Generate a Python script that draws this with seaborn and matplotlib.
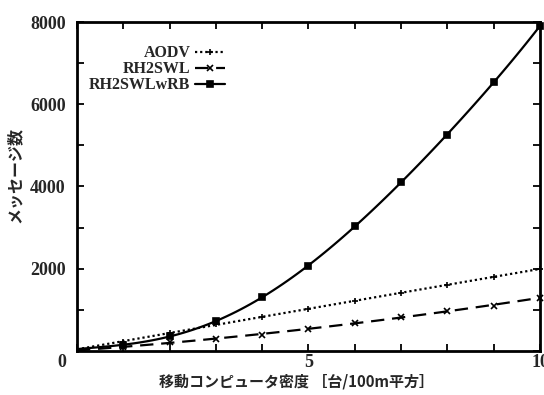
import numpy as np
import pandas as pd
import matplotlib
matplotlib.use("Agg")
import matplotlib.pyplot as plt
from matplotlib.lines import Line2D
import seaborn as sns

# Mobile-computer density (units per 100 m^2) and message counts per protocol
density = [1, 2, 3, 4, 5, 6, 7, 8, 9, 10]
aodv = [230, 440, 650, 830, 1020, 1220, 1410, 1610, 1800, 2000]
rh2swl = [100, 210, 300, 390, 540, 680, 830, 975, 1100, 1300]
rh2swl_wrb = [150, 360, 720, 1310, 2070, 3050, 4100, 5250, 6550, 7900]

series_names = ["AODV", "RH2SWL", "RH2SWLwRB"]
x_ticks = [0, 5, 10]
y_ticks = [0, 2000, 4000, 6000, 8000]

df = pd.DataFrame({
    "density": density * 3,
    "messages": aodv + rh2swl + rh2swl_wrb,
    "protocol": np.repeat(series_names, len(density)),
})

sns.set_style("ticks")
plt.rcParams["font.family"] = ["Liberation Serif", "DejaVu Sans"]
plt.rcParams["font.weight"] = "bold"

fig = plt.figure(figsize=(5.44, 3.95), dpi=100)
ax = fig.add_axes([0.1415, 0.1114, 0.8511, 0.8329])
ax.set_xlim(0, 10)
ax.set_ylim(0, 8000)

styles = {
    "AODV": dict(ls=(0, (1, 1.3)), marker="+", ms=5, order=2),
    "RH2SWL": dict(ls=(0, (6, 3.5)), marker="x", ms=4, order=2),
    "RH2SWLwRB": dict(ls="-", marker="s", ms=4, order=5),
}

handles = []
for name in series_names:
    st = styles[name]
    sub = df[df["protocol"] == name]
    sns.regplot(data=sub, x="density", y="messages", order=st["order"],
                ci=None, scatter=False, truncate=False, ax=ax,
                line_kws=dict(color="black", lw=1.6, ls=st["ls"]))
    ax.plot(sub["density"], sub["messages"], ls="none", marker=st["marker"],
            ms=st["ms"], color="black", mew=1.2, clip_on=False, zorder=4)
    handles.append(Line2D([], [], color="black", lw=1.6, ls=st["ls"],
                          marker=st["marker"], ms=st["ms"], mew=1.2))

ax.set_xlim(0, 10)
ax.set_ylim(0, 8000)

ax.set_xticks(x_ticks)
ax.set_xticks(range(0, 11), minor=True)
ax.set_xticklabels(["", "5", "10"])
ax.set_yticks(y_ticks)
ax.set_yticks(range(0, 8001, 1000), minor=True)
ax.set_yticklabels([""] + [str(v) for v in y_ticks[1:]])
ax.tick_params(which="both", direction="in", top=True, right=True,
               length=5, width=1.3, color="black", labelsize=13)
ax.tick_params(axis="x", pad=2)
ax.tick_params(axis="y", pad=8)
for lab in ax.get_xticklabels() + ax.get_yticklabels():
    lab.set_fontweight("bold")
ax.annotate("0", xy=(0, 0), xycoords="data", xytext=(-15, -12),
            textcoords="offset pixels", ha="center", va="center",
            fontsize=13, fontweight="bold")

for sp in ax.spines.values():
    sp.set_visible(True)
    sp.set_linewidth(2)
    sp.set_color("black")

jp = ["Noto Sans CJK JP", "DejaVu Sans"]
ax.set_xlabel("移動コンピュータ密度 ［台/100m平方］", family=jp,
              fontsize=10.8, fontweight="bold")
ax.xaxis.set_label_coords(0.475, -0.068)
ax.set_ylabel("メッセージ数", family=jp, fontsize=11.5, fontweight="bold")
ax.yaxis.set_label_coords(-0.118, 0.535)

leg = ax.legend(handles, series_names, loc="upper right",
                bbox_to_anchor=(0.338, 0.953), frameon=False,
                markerfirst=False, numpoints=1, handlelength=1.9,
                handletextpad=0.3, labelspacing=0.0, borderpad=0,
                prop=dict(family="Liberation Serif", weight="bold", size=11.5))

fig.savefig("out.png", dpi=100)
